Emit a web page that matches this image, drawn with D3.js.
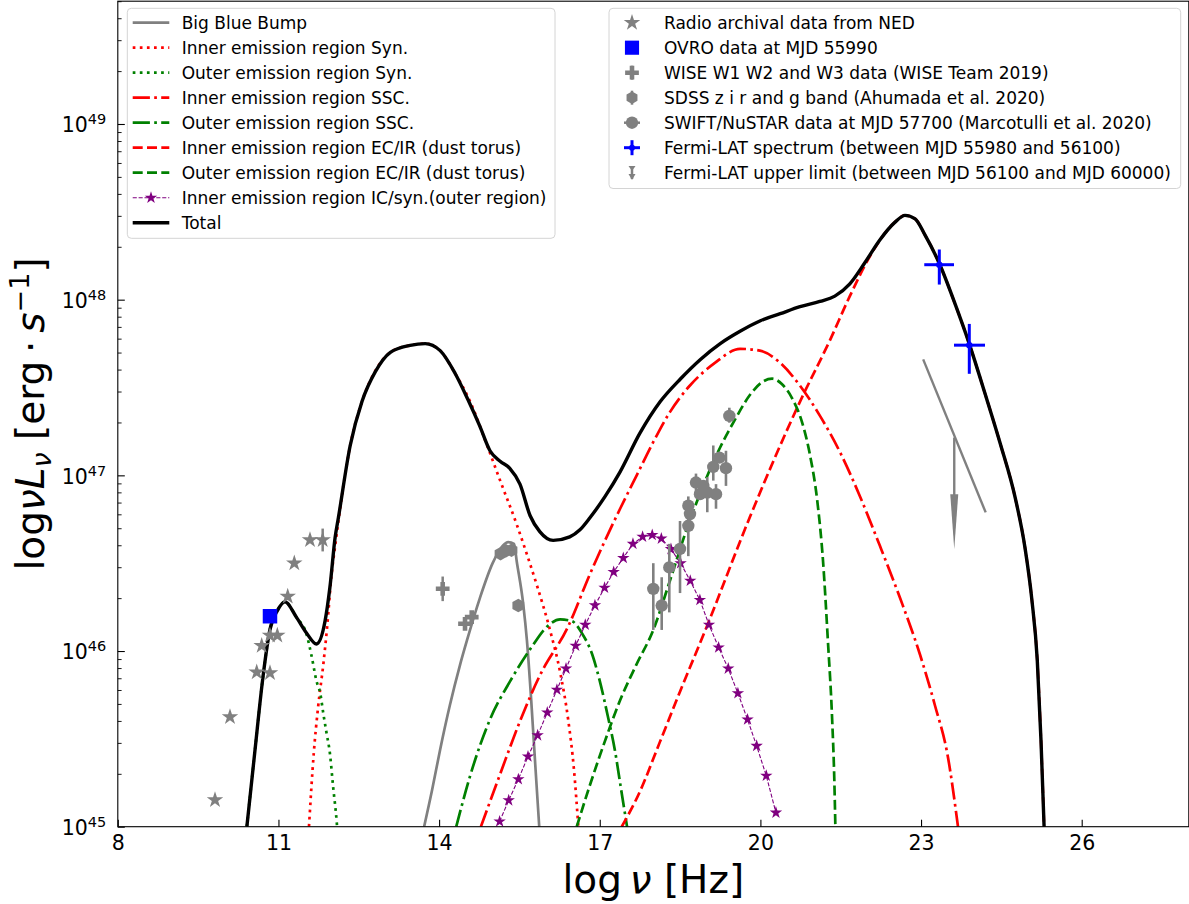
<!DOCTYPE html>
<html>
<head>
<meta charset="utf-8">
<script src="https://cdn.jsdelivr.net/npm/d3@7"></script>
<style>
  body { margin: 0; background: #fff; }
  text { font-family: "DejaVu Sans", sans-serif; }
</style>
</head>
<body>
<svg id="chart" width="1189" height="904"></svg>
<script>
// every pair is [log nu (Hz), log nuL_nu (erg/s)]
const bigBlueBump = [[13.72,45.0],[13.87,45.21],[14.02,45.44],[14.20,45.69],[14.39,45.92],[14.52,46.06],[14.76,46.30],[15.0,46.50],[15.19,46.60],[15.29,46.62],[15.40,46.61],[15.45,46.51],[15.57,46.27],[15.64,46.06],[15.72,45.72],[15.79,45.38],[15.87,45.0]];
const innerSyn = [[11.57,45.0],[11.66,45.42],[11.74,45.68],[11.84,45.93],[11.91,46.14],[11.99,46.43],[12.06,46.60],[12.12,46.74],[12.34,47.17],[12.56,47.42],[12.80,47.59],[13.09,47.70],[13.46,47.74],[13.74,47.75],[14.02,47.71],[14.30,47.58],[14.58,47.42],[14.86,47.20],[15.14,46.97],[15.45,46.72],[15.64,46.55],[15.82,46.38],[16.07,46.12],[16.26,45.88],[16.41,45.61],[16.52,45.32],[16.60,45.0]];
const outerSyn = [[10.41,45.0],[10.56,45.43],[10.71,45.85],[10.84,46.12],[10.98,46.23],[11.12,46.28],[11.34,46.19],[11.52,46.10],[11.62,45.97],[11.71,45.83],[11.78,45.76],[11.84,45.64],[11.90,45.53],[11.96,45.42],[12.02,45.23],[12.09,45.02],[12.10,44.98]];
const innerSSC = [[14.78,45.0],[15.14,45.30],[15.51,45.60],[15.88,45.86],[16.41,46.14],[16.82,46.44],[17.10,46.63],[17.38,46.81],[17.69,47.0],[18.0,47.19],[18.31,47.36],[18.68,47.51],[19.15,47.64],[19.62,47.72],[19.99,47.71],[20.37,47.64],[20.74,47.51],[21.11,47.34],[21.49,47.13],[21.86,46.88],[22.23,46.60],[22.61,46.30],[22.98,45.98],[23.26,45.69],[23.50,45.40],[23.69,45.0]];
const outerSSC = [[14.32,45.0],[14.58,45.29],[14.95,45.61],[15.33,45.83],[15.70,46.01],[16.02,46.14],[16.26,46.18],[16.48,46.17],[16.67,46.10],[16.86,45.98],[17.0,45.83],[17.15,45.63],[17.28,45.44],[17.40,45.21],[17.51,45.0]];
const innerEC = [[17.41,45.0],[17.75,45.20],[18.12,45.48],[18.50,45.77],[19.0,46.14],[19.80,46.76],[20.74,47.42],[21.30,47.77],[21.67,48.02],[22.05,48.25],[22.33,48.38],[22.51,48.44],[22.70,48.48],[22.89,48.46],[23.07,48.37],[23.35,48.20],[23.63,47.98],[23.91,47.74],[24.19,47.47],[24.48,47.18],[24.76,46.87],[24.94,46.59],[25.07,46.29],[25.17,45.95],[25.24,45.49],[25.30,44.98]];
const outerEC = [[16.57,45.0],[16.82,45.24],[17.10,45.49],[17.38,45.72],[17.68,45.92],[18.0,46.12],[18.31,46.40],[18.62,46.69],[18.93,46.94],[19.25,47.16],[19.53,47.32],[19.81,47.46],[20.03,47.53],[20.22,47.55],[20.40,47.52],[20.59,47.44],[20.78,47.30],[20.93,47.11],[21.06,46.86],[21.17,46.51],[21.26,46.06],[21.34,45.61],[21.38,45.27],[21.40,45.0]];
const icNu = [15.13,15.30,15.48,15.66,15.84,16.02,16.20,16.37,16.55,16.73,16.91,17.09,17.26,17.44,17.62,17.80,17.98,18.15,18.33,18.51,18.69,18.87,19.04,19.22,19.40,19.58,19.76,19.93,20.11,20.29];
const icL  = [45.03,45.15,45.27,45.40,45.52,45.65,45.78,45.90,46.03,46.15,46.26,46.36,46.45,46.53,46.61,46.65,46.66,46.64,46.58,46.50,46.40,46.29,46.15,46.02,45.90,45.76,45.61,45.46,45.29,45.08];
const total = [[10.41,45.0],[10.56,45.43],[10.71,45.85],[10.84,46.12],[10.98,46.23],[11.12,46.28],[11.34,46.19],[11.53,46.10],[11.71,46.04],[11.87,46.17],[11.96,46.36],[12.06,46.65],[12.12,46.76],[12.34,47.17],[12.56,47.42],[12.81,47.59],[13.09,47.70],[13.46,47.74],[13.74,47.75],[14.02,47.71],[14.30,47.58],[14.54,47.43],[14.76,47.28],[14.95,47.14],[15.14,47.08],[15.32,47.04],[15.51,46.95],[15.70,46.77],[15.88,46.68],[16.13,46.63],[16.44,46.65],[16.63,46.69],[16.82,46.76],[17.10,46.88],[17.38,47.02],[17.75,47.24],[18.13,47.42],[18.51,47.55],[18.88,47.66],[19.25,47.75],[19.62,47.82],[20.0,47.88],[20.37,47.92],[20.74,47.96],[21.11,47.99],[21.39,48.02],[21.67,48.09],[21.95,48.21],[22.23,48.34],[22.51,48.44],[22.70,48.48],[22.89,48.46],[23.07,48.37],[23.35,48.20],[23.63,47.98],[23.91,47.74],[24.19,47.47],[24.48,47.18],[24.76,46.87],[24.94,46.59],[25.07,46.29],[25.17,45.95],[25.24,45.49],[25.30,44.98]];

// observations
const radioNu = [9.815,10.095,10.594,10.842,10.687,10.842,10.979,11.173,11.296,11.589,11.826];
const radioL  = [45.152,45.625,45.88,45.875,46.03,46.089,46.089,46.31,46.50,46.632,46.632];
const radioErr = [0,0,0,0,0,0,0,0,0,0,0.065];
const ovroNu = [10.842], ovroL = [46.198];
const wiseNu = [14.067,14.484,14.609], wiseL = [46.354,46.155,46.193], wiseErr = [0.07,0.03,0.03];
const sdssNu = [15.147,15.249,15.352,15.479], sdssL = [46.554,46.571,46.574,46.259];
const swiftNu = [19.420,19.234,19.120,19.357,18.797,18.934,19.008,18.872,19.171,18.654,18.685,18.654,18.499,18.299,18.0,18.157];
const swiftL  = [47.338,47.101,47.048,47.041,46.959,46.940,46.902,46.893,46.893,46.827,46.780,46.713,46.581,46.476,46.354,46.259];
const swiftLo = [47.30,47.09,46.97,46.94,46.90,46.93,46.79,46.88,46.81,46.77,46.77,46.54,46.33,46.22,46.12,46.12];
const swiftHi = [47.385,47.11,47.17,47.14,47.01,46.95,46.99,46.90,46.95,46.88,46.79,46.76,46.74,46.61,46.50,46.42];
const fermiNu = [23.341,23.901], fermiL = [48.199,47.741];
const fermiNuLo = [23.06,23.615], fermiNuHi = [23.615,24.194];
const fermiLo = [48.086,47.578], fermiHi = [48.285,47.862];
const ulNu = [23.62], ulL = [47.215], ulEnd = [46.58];
const ulLine = [[23.04,47.66],[24.207,46.789]];

const xTicks = [8, 11, 14, 17, 20, 23, 26];
const yMajor = [1e45, 1e46, 1e47, 1e48, 1e49];

const modelLabels = ["Big Blue Bump","Inner emission region Syn.","Outer emission region Syn.","Inner emission region SSC.","Outer emission region SSC.","Inner emission region EC/IR (dust torus)","Outer emission region EC/IR (dust torus)","Inner emission region IC/syn.(outer region)","Total"];
const dataLabels = ["Radio archival data from NED","OVRO data at MJD 55990","WISE W1 W2 and W3 data (WISE Team 2019)","SDSS z i r and g band (Ahumada et al. 2020)","SWIFT/NuSTAR data at MJD 57700 (Marcotulli et al. 2020)","Fermi-LAT spectrum (between MJD 55980 and 56100)","Fermi-LAT upper limit (between MJD 56100 and MJD 60000)"];

const X0 = 117.8, X1 = 1188.8, Y0 = 826.7, Y1 = 1.2;
const x = d3.scaleLinear().domain([8, 28]).range([X0, X1]);
const y = d3.scaleLog().domain([1e45, 5e49]).range([Y0, Y1]);
const Y = l => y(Math.pow(10, l));

const svg = d3.select("#chart");
svg.append("defs").append("clipPath").attr("id", "clip")
  .append("rect").attr("x", X0).attr("y", Y1).attr("width", X1 - X0).attr("height", Y0 - Y1);
const plot = svg.append("g").attr("clip-path", "url(#clip)");

const line = d3.line().x(d => x(d[0])).y(d => Y(d[1])).curve(d3.curveMonotoneX);

const RED = "#ff0000", GREEN = "#008000", GRAY = "#808080", PURPLE = "#800080", BLUE = "#0000ff";
const LW = 2.7;
const DOT = "2.7 4.4", DASH = "10 4.3", DASHDOT = "17.2 4.3 2.7 4.3";
const styles = [
  {c: GRAY, w: LW, d: null}, {c: RED, w: LW, d: DOT}, {c: GREEN, w: LW, d: DOT},
  {c: RED, w: LW, d: DASHDOT}, {c: GREEN, w: LW, d: DASHDOT},
  {c: RED, w: LW, d: DASH}, {c: GREEN, w: LW, d: DASH},
  {c: PURPLE, w: 1.1, d: "4.1 1.8", star: true}, {c: "#000", w: 3.4, d: null}
];
const STAR_IC = 48, STAR_RADIO = 85;

function drawCurve(data, s) {
  plot.append("path").datum(data).attr("fill", "none").attr("stroke", s.c)
    .attr("stroke-width", s.w).attr("stroke-dasharray", s.d).attr("d", line);
}
const icData = icNu.map((v, i) => [v, icL[i]]);
[bigBlueBump, innerSyn, outerSyn, innerSSC, outerSSC, innerEC, outerEC].forEach((c, i) => drawCurve(c, styles[i]));
plot.append("path").datum(icData).attr("fill", "none").attr("stroke", PURPLE)
  .attr("stroke-width", 1.1).attr("stroke-dasharray", "4.1 1.8")
  .attr("d", d3.line().x(d => x(d[0])).y(d => Y(d[1])));
const star = d3.symbol(d3.symbolStar);
plot.selectAll(".ic").data(icData).join("path")
  .attr("transform", d => `translate(${x(d[0])},${Y(d[1])})`)
  .attr("d", star.size(STAR_IC)()).attr("fill", PURPLE);
drawCurve(total, styles[8]);

// markers
function hexPath(r) {
  const p = d3.range(6).map(k => { const a = Math.PI / 2 + k * Math.PI / 3; return [r * Math.cos(a), r * Math.sin(a)]; });
  return "M" + p.join("L") + "Z";
}
function vbar(g, px, y0, y1, col, w) {
  g.append("line").attr("x1", px).attr("x2", px).attr("y1", y0).attr("y2", y1).attr("stroke", col).attr("stroke-width", w);
}

// radio
radioNu.forEach((v, i) => { if (radioErr[i]) vbar(plot, x(v), Y(radioL[i] - radioErr[i]), Y(radioL[i] + radioErr[i]), GRAY, 2.5); });
plot.selectAll(".radio").data(radioNu).join("path")
  .attr("transform", (v, i) => `translate(${x(v)},${Y(radioL[i])})`)
  .attr("d", star.size(STAR_RADIO)()).attr("fill", GRAY);
// OVRO
plot.selectAll(".ovro").data(ovroNu).join("path")
  .attr("transform", (v, i) => `translate(${x(v)},${Y(ovroL[i])})`)
  .attr("d", d3.symbol(d3.symbolSquare, 210)()).attr("fill", BLUE);
// WISE
wiseNu.forEach((v, i) => vbar(plot, x(v), Y(wiseL[i] - wiseErr[i]), Y(wiseL[i] + wiseErr[i]), GRAY, 2.5));
plot.selectAll(".wise").data(wiseNu).join("path")
  .attr("transform", (v, i) => `translate(${x(v)},${Y(wiseL[i])})`)
  .attr("d", d3.symbol(d3.symbolCross, 105)()).attr("fill", GRAY);
// SDSS
plot.selectAll(".sdss").data(sdssNu).join("path")
  .attr("transform", (v, i) => `translate(${x(v)},${Y(sdssL[i])})`)
  .attr("d", hexPath(6.8)).attr("fill", GRAY);
// SWIFT / NuSTAR
swiftNu.forEach((v, i) => vbar(plot, x(v), Y(swiftLo[i]), Y(swiftHi[i]), GRAY, 2.6));
plot.selectAll(".swift").data(swiftNu).join("circle")
  .attr("cx", v => x(v)).attr("cy", (v, i) => Y(swiftL[i])).attr("r", 6.2).attr("fill", GRAY);
// Fermi upper limit
plot.append("path").datum(ulLine).attr("fill", "none").attr("stroke", GRAY).attr("stroke-width", 2.4)
  .attr("d", d3.line().x(d => x(d[0])).y(d => Y(d[1])));
ulNu.forEach((v, i) => {
  const px = x(v), top = Y(ulL[i]), bot = Y(ulEnd[i]);
  vbar(plot, px, top, bot - 40, GRAY, 2.4);
  plot.append("path").attr("d", `M${px - 4},${bot - 55}L${px + 4},${bot - 55}L${px},${bot}Z`).attr("fill", GRAY);
});
// Fermi spectrum
fermiNu.forEach((v, i) => {
  vbar(plot, x(v), Y(fermiLo[i]), Y(fermiHi[i]), BLUE, 3);
  plot.append("line").attr("x1", x(fermiNuLo[i])).attr("x2", x(fermiNuHi[i]))
    .attr("y1", Y(fermiL[i])).attr("y2", Y(fermiL[i])).attr("stroke", BLUE).attr("stroke-width", 3);
  plot.append("circle").attr("cx", x(v)).attr("cy", Y(fermiL[i])).attr("r", 3.2).attr("fill", BLUE);
});

// axes
const xAxis = svg.append("g").attr("transform", `translate(0,${Y0})`)
  .call(d3.axisBottom(x).tickValues(xTicks).tickSize(-7).tickPadding(9).tickFormat(d3.format("d")));
xAxis.select(".domain").remove();
xAxis.attr("font-size", 20.5).attr("font-family", "DejaVu Sans");
xAxis.selectAll("line").attr("stroke-width", 1.1);

const yAxis = svg.append("g").attr("transform", `translate(${X0},0)`)
  .call(d3.axisLeft(y).tickValues(yMajor).tickSize(-7).tickPadding(11.5));
yAxis.select(".domain").remove();
yAxis.attr("font-size", 20.5).attr("font-family", "DejaVu Sans");
yAxis.selectAll("line").attr("stroke-width", 1.1);
yAxis.selectAll(".tick text").each(function (d) {
  const t = d3.select(this).text(null).attr("dy", "0.38em");
  t.append("tspan").text("10");
  t.append("tspan").attr("font-size", 14.5).attr("dy", -8).text(Math.round(Math.log10(d)));
});
const minor = y.ticks().filter(t => Math.abs(Math.log10(t) % 1) > 1e-6);
svg.append("g").attr("transform", `translate(${X0},0)`)
  .call(d3.axisLeft(y).tickValues(minor).tickSize(-3.8).tickFormat(""))
  .call(g => g.select(".domain").remove())
  .selectAll("line").attr("stroke-width", 0.9);

svg.append("rect").attr("x", X0).attr("y", Y1).attr("width", X1 - X0).attr("height", Y0 - Y1)
  .attr("fill", "none").attr("stroke", "#000").attr("stroke-width", 1.1);

// axis labels
const xl = svg.append("text").attr("x", (X0 + X1) / 2).attr("y", 893).attr("text-anchor", "middle").attr("font-size", 39);
xl.append("tspan").text("log\u2009");
xl.append("tspan").attr("font-style", "italic").text("ν");
xl.append("tspan").text(" [Hz]");

const yl = svg.append("text").attr("transform", `translate(44,${(Y0 + Y1) / 2}) rotate(-90)`)
  .attr("text-anchor", "middle").attr("font-size", 39);
yl.append("tspan").text("log");
yl.append("tspan").attr("font-style", "italic").text("νL");
yl.append("tspan").attr("font-style", "italic").attr("font-size", 27).attr("dy", 7).text("ν");
yl.append("tspan").attr("dy", -7).text(" [erg\u2009·\u2009");
yl.append("tspan").attr("font-style", "italic").text("s");
yl.append("tspan").attr("font-size", 27).attr("dy", -15).text("−1");
yl.append("tspan").attr("dy", 15).text("]");

// legends
function frame(x0, y0, x1, y1) {
  svg.append("rect").attr("x", x0).attr("y", y0).attr("width", x1 - x0).attr("height", y1 - y0)
    .attr("rx", 4).attr("fill", "#fff").attr("fill-opacity", 0.8).attr("stroke", "#d4d4d4").attr("stroke-width", 1);
}
const FS = 17;
frame(127.3, 8.3, 555, 238.3);
const lg = svg.append("g");
modelLabels.forEach((lab, i) => {
  const cy = 22.7 + 25 * i, s = styles[i];
  lg.append("line").attr("x1", 132.7).attr("x2", 169.3).attr("y1", cy).attr("y2", cy)
    .attr("stroke", s.c).attr("stroke-width", s.w).attr("stroke-dasharray", s.d);
  if (s.star) lg.append("path").attr("transform", `translate(151,${cy})`).attr("d", star.size(STAR_IC)()).attr("fill", PURPLE);
  lg.append("text").attr("x", 181.7).attr("y", cy).attr("dy", "0.36em").attr("font-size", FS).text(lab);
});

frame(609, 8.3, 1180.7, 188.5);
const rg = svg.append("g");
const mx = 632;
dataLabels.forEach((lab, i) => {
  const cy = 22.7 + 25 * i;
  rg.append("text").attr("x", 664).attr("y", cy).attr("dy", "0.36em").attr("font-size", FS).text(lab);
});
rg.append("path").attr("transform", `translate(${mx},22.7)`).attr("d", star.size(STAR_RADIO)()).attr("fill", GRAY);
rg.append("path").attr("transform", `translate(${mx},47.7)`).attr("d", d3.symbol(d3.symbolSquare, 200)()).attr("fill", BLUE);
vbar(rg, mx, 65.7, 79.7, GRAY, 2.5);
rg.append("path").attr("transform", `translate(${mx},72.7)`).attr("d", d3.symbol(d3.symbolCross, 105)()).attr("fill", GRAY);
vbar(rg, mx, 90.7, 104.7, GRAY, 2.5);
rg.append("path").attr("transform", `translate(${mx},97.7)`).attr("d", hexPath(6.3)).attr("fill", GRAY);
rg.append("line").attr("x1", mx - 8).attr("x2", mx + 8).attr("y1", 122.7).attr("y2", 122.7).attr("stroke", GRAY).attr("stroke-width", 2.5);
rg.append("circle").attr("cx", mx).attr("cy", 122.7).attr("r", 6.2).attr("fill", GRAY);
vbar(rg, mx, 140.2, 155.2, BLUE, 3);
rg.append("line").attr("x1", mx - 8).attr("x2", mx + 8).attr("y1", 147.7).attr("y2", 147.7).attr("stroke", BLUE).attr("stroke-width", 3);
rg.append("circle").attr("cx", mx).attr("cy", 147.7).attr("r", 3).attr("fill", BLUE);
vbar(rg, mx, 166, 179, GRAY, 2.5);
rg.append("path").attr("d", `M${mx - 3.5},166L${mx + 3.5},166L${mx},171Z`).attr("fill", GRAY);
rg.append("path").attr("d", `M${mx - 3.5},174L${mx + 3.5},174L${mx},180Z`).attr("fill", GRAY);
</script>
</body>
</html>
